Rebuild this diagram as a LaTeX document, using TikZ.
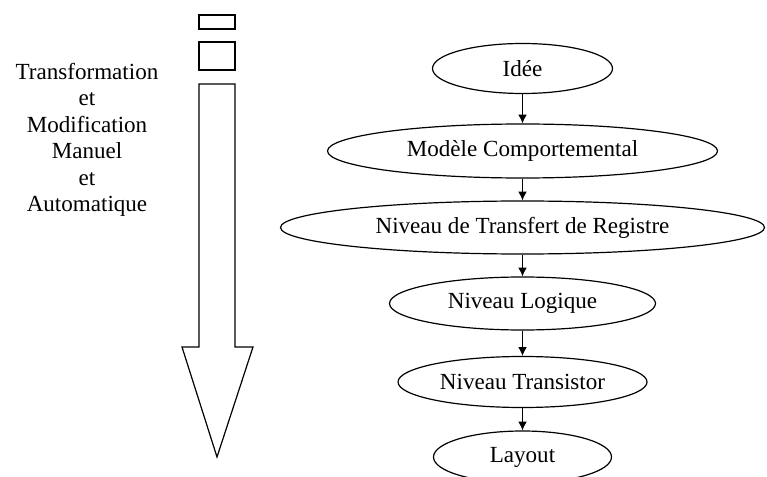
\documentclass[tikz,border=0pt]{standalone}
\usepackage{fontspec}
\setmainfont{Liberation Serif}
\usetikzlibrary{shapes.geometric, arrows.meta, positioning}

\begin{document}
\begin{tikzpicture}[x=0.75pt,y=-0.75pt,
    etape/.style={draw, ellipse, line width=0.9pt, inner sep=0pt,
                  font=\fontsize{17.3}{19.9}\selectfont},
    fleche/.style={line width=0.9pt, -{Latex[length=6.5pt,width=6.5pt]}}]
  \useasboundingbox (0,0) rectangle (767,477);

  % Grande fleche a gauche
  \draw[line width=0.9pt] (199,15) rectangle (235,29);
  \draw[line width=0.9pt] (199,42) rectangle (235,70);
  \draw[line width=0.9pt] (199,84) -- (235,84) -- (235,347) -- (253,347)
        -- (217,457) -- (182,347) -- (199,347) -- cycle;

  \node[align=center, font=\fontsize{17.3}{19.9}\selectfont] (texte) at (87,140)
    {Transformation\\et\\Modification\\Manuel\\et\\Automatique};

  % Les niveaux
  \node[etape, minimum width=135pt, minimum height=37.5pt] (idee) at (522.5,68.5) {Idée};
  \node[etape, minimum width=292.5pt, minimum height=40.5pt] (modele) at (522.5,151) {Modèle Comportemental};
  \node[etape, minimum width=363pt, minimum height=39.75pt] (rtl) at (522.5,227.5) {Niveau de Transfert de Registre};
  \node[etape, minimum width=199.5pt, minimum height=39.75pt] (logique) at (522.5,303.5) {Niveau Logique};
  \node[etape, minimum width=186.75pt, minimum height=38.25pt] (transistor) at (522.5,382) {Niveau Transistor};
  \node[etape, minimum width=133.5pt, minimum height=39pt] (layout) at (522.5,457) {Layout};

  \draw[fleche] (idee) -- (modele);
  \draw[fleche] (modele) -- (rtl);
  \draw[fleche] (rtl) -- (logique);
  \draw[fleche] (logique) -- (transistor);
  \draw[fleche] (transistor) -- (layout);
\end{tikzpicture}
\end{document}
